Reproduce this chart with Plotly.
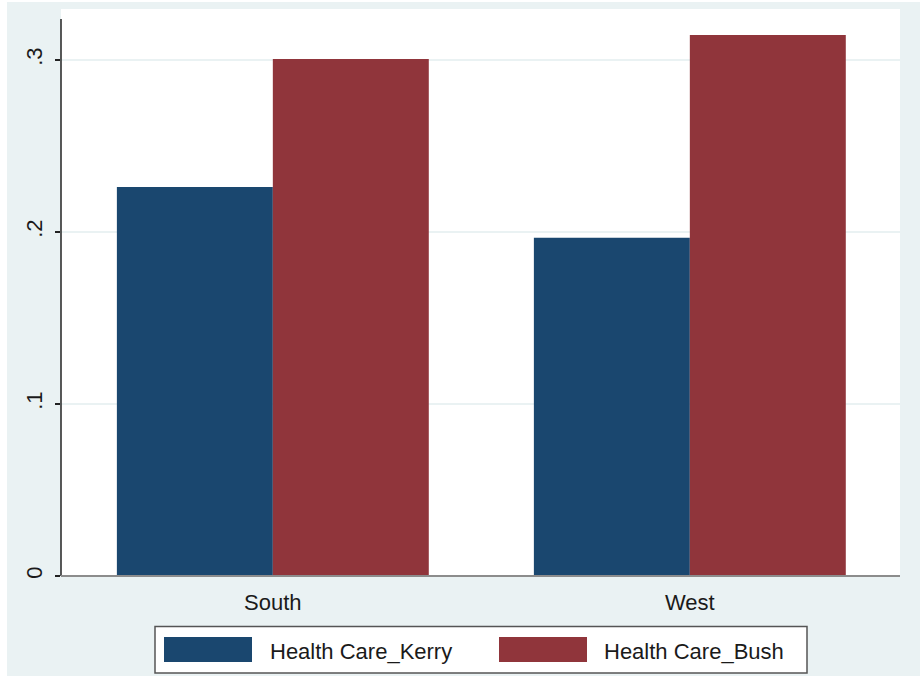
import plotly.graph_objects as go

regions = ["South", "West"]
kerry = [0.2262, 0.1966]
bush = [0.3006, 0.3145]
series_names = ["Health Care_Kerry", "Health Care_Bush"]
ytick_vals = [0, 0.1, 0.2, 0.3]
ytick_text = ["0", ".1", ".2", ".3"]

navy = "#1a476f"
maroon = "#90353b"
bg = "#eaf2f3"
W, H = 920, 676
L, R, T, B = 61, 20, 9, 100
PW, PH = W - L - R, H - T - B


def px(x):
    return (x - L) / PW


def py(y):
    return (H - B - y) / PH


fig = go.Figure()
fig.add_trace(go.Bar(x=regions, y=kerry, name=series_names[0], marker=dict(color=navy, line=dict(width=0))))
fig.add_trace(go.Bar(x=regions, y=bush, name=series_names[1], marker=dict(color=maroon, line=dict(width=0))))

font = dict(family="Liberation Sans, Arial, sans-serif", size=22, color="#1a1a1a")

fig.update_layout(
    width=W, height=H,
    margin=dict(l=L, r=R, t=T, b=B),
    paper_bgcolor=bg, plot_bgcolor="white",
    barmode="group", bargap=0.252, bargroupgap=0,
    font=font,
    showlegend=False,
    xaxis=dict(range=[-0.508, 1.504], showline=False, ticks="", showgrid=False,
               tickfont=font, zeroline=False, automargin=False, ticklabelstandoff=11),
    yaxis=dict(range=[0, 0.3296], tickvals=ytick_vals, ticktext=ytick_text, tickangle=-90,
               ticks="outside", ticklen=5, tickcolor="#222222", tickwidth=1.5,
               showline=False,
               showgrid=True, gridcolor=bg, gridwidth=1.5, zeroline=False,
               tickfont=font, ticklabelstandoff=4, automargin=False),
)

# y axis line (stops slightly below the top of the plot region)
fig.add_shape(type="line", xref="paper", yref="paper", x0=0, x1=0, y0=0, y1=py(19),
              line=dict(color="#222222", width=1.5), layer="above")
# bottom axis line (gray)
fig.add_shape(type="line", xref="paper", yref="paper", x0=0, x1=1, y0=0, y1=0,
              line=dict(color="#8c8c8c", width=2), layer="above")

# thin white frame at image edges
fig.add_shape(type="rect", xref="paper", yref="paper", x0=px(0), x1=px(7), y0=py(H), y1=py(0),
              fillcolor="white", line=dict(width=0), layer="below")
fig.add_shape(type="rect", xref="paper", yref="paper", x0=px(0), x1=px(W), y0=py(2), y1=py(0),
              fillcolor="white", line=dict(width=0), layer="below")

# legend (drawn)
fig.add_shape(type="rect", xref="paper", yref="paper", x0=px(155), x1=px(807), y0=py(673), y1=py(626.5),
              fillcolor="white", line=dict(color="#555555", width=1.5))
colors = [navy, maroon]
sw_x = [164, 499]
txt_x = [268, 602]
for i in range(2):
    fig.add_shape(type="rect", xref="paper", yref="paper", x0=px(sw_x[i]), x1=px(sw_x[i] + 88),
                  y0=py(662), y1=py(637), fillcolor=colors[i], line=dict(width=0))
    fig.add_annotation(xref="paper", yref="paper", x=px(txt_x[i]), y=py(651), text=series_names[i],
                       showarrow=False, xanchor="left", yanchor="middle", font=font)

fig.write_html("out.html", config={"displayModeBar": False},
               post_script="document.body.style.margin='0';")
